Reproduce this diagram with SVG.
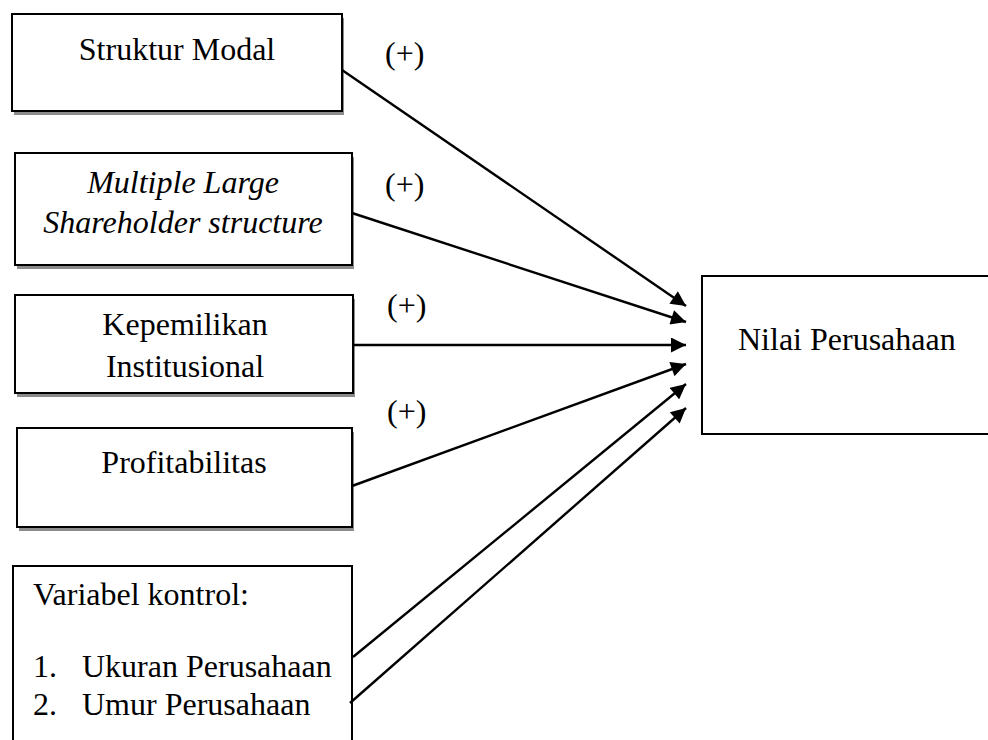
<svg xmlns="http://www.w3.org/2000/svg" width="988" height="740" viewBox="0 0 988 740">
<style>
.box{fill:#fff;stroke:#000;stroke-width:2}
.sh{fill:#8c8c8c}
.t{font-family:"Liberation Serif","Times New Roman",serif;font-size:32px;fill:#000}
.c{text-anchor:middle}
.i{font-style:italic}
.ln{stroke:#000;stroke-width:2.4;fill:none;marker-end:url(#ah)}
</style>
<defs>
<marker id="ah" viewBox="0 0 10 10" refX="10" refY="5" markerWidth="16" markerHeight="15" markerUnits="userSpaceOnUse" orient="auto">
<path d="M0,0 L10,5 L0,10 z" fill="#000"/>
</marker>
</defs>
<rect width="988" height="740" fill="#fff"/>
<g id="n-struktur">
<rect class="sh" x="14" y="18" width="330" height="97"/>
<rect class="box" x="12" y="14" width="330" height="97"/>
<text class="t c" x="177" y="60">Struktur Modal</text>
</g>
<g id="n-multiple">
<rect class="sh" x="17" y="157" width="337" height="112"/>
<rect class="box" x="15" y="153" width="337" height="112"/>
<text class="t c i" x="183" y="193">Multiple Large</text>
<text class="t c i" x="183" y="233">Shareholder structure</text>
</g>
<g id="n-kepemilikan">
<rect class="sh" x="17" y="299" width="338" height="98"/>
<rect class="box" x="15" y="295" width="338" height="98"/>
<text class="t c" x="185" y="335">Kepemilikan</text>
<text class="t c" x="185" y="377">Institusional</text>
</g>
<g id="n-profitabilitas">
<rect class="sh" x="19" y="432" width="335" height="99"/>
<rect class="box" x="17" y="428" width="335" height="99"/>
<text class="t c" x="184" y="473">Profitabilitas</text>
</g>
<g id="n-kontrol">
<rect class="box" x="13" y="566" width="339" height="200"/>
<text class="t" x="33" y="605">Variabel kontrol:</text>
<text class="t" x="33" y="677">1.</text>
<text class="t" x="82" y="677">Ukuran Perusahaan</text>
<text class="t" x="33" y="715">2.</text>
<text class="t" x="82" y="715">Umur Perusahaan</text>
</g>
<g id="n-nilai">
<rect class="box" x="702" y="276" width="300" height="158"/>
<text class="t" x="738" y="350">Nilai Perusahaan</text>
</g>
<g id="connectors">
<line class="ln" x1="342" y1="70" x2="686" y2="306"/>
<line class="ln" x1="352" y1="213" x2="686" y2="322"/>
<line class="ln" x1="353" y1="345" x2="686" y2="345"/>
<line class="ln" x1="352" y1="486" x2="686" y2="364"/>
<line class="ln" x1="353" y1="657" x2="686" y2="384"/>
<line class="ln" x1="350" y1="703" x2="686" y2="408"/>
</g>
<g id="labels">
<text class="t" x="385" y="64">(+)</text>
<text class="t" x="385" y="195">(+)</text>
<text class="t" x="387" y="316">(+)</text>
<text class="t" x="387" y="422">(+)</text>
</g>
</svg>
